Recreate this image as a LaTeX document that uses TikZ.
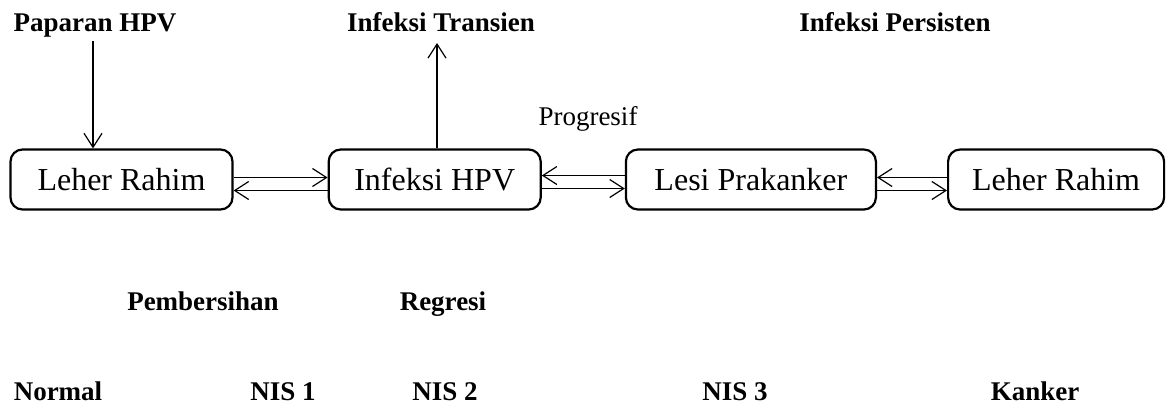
\documentclass[tikz,border=0pt]{standalone}
\usepackage{fontspec}
\setmainfont{Liberation Serif}
\usetikzlibrary{positioning,arrows.meta}

\begin{document}
\begin{tikzpicture}[x=0.5pt,y=-0.5pt,
  k/.style={rectangle,draw,line width=1.1pt,rounded corners=6pt,minimum height=30pt,inner sep=0pt,font=\fontsize{16}{19}\selectfont},
  lb/.style={font=\fontsize{13.5}{16}\selectfont\bfseries,inner sep=0pt,anchor=base},
  a/.style={-{Straight Barb[length=7pt,width=9pt]},line width=0.6pt}]
  \useasboundingbox (0,0) rectangle (1174,403);
  \node[k,minimum width=111pt] (n) at (121.5,179.5) {Leher Rahim};
  \node[k,right=47pt,minimum width=106pt] (h) at (n.east) {Infeksi HPV};
  \node[k,right=41.5pt,minimum width=125pt] (l) at (h.east) {Lesi Prakanker};
  \node[k,right=35pt,minimum width=108pt] (c) at (l.east) {Leher Rahim};

  \draw[a] ([yshift=1pt]n.east) -- ([yshift=1pt]h.west);
  \draw[a] ([yshift=-5.5pt]h.west) -- ([yshift=-5.5pt]n.east);
  \draw[a] ([yshift=2pt]l.west) -- ([yshift=2pt]h.east);
  \draw[a] ([yshift=-4.5pt]h.east) -- ([yshift=-4.5pt]l.west);
  \draw[a] ([yshift=1pt]c.west) -- ([yshift=1pt]l.east);
  \draw[a] ([yshift=-5.5pt]l.east) -- ([yshift=-5.5pt]c.west);

  \node[lb] (pap) at (95,31) {Paparan HPV};
  \node[lb] (tr) at (441,31) {Infeksi Transien};
  \node[lb] (ps) at (895,31) {Infeksi Persisten};
  \node[lb,font=\fontsize{13.5}{16}\selectfont] (pg) at (588,125) {Progresif};

  \coordinate (p0) at (93,41);
  \coordinate (t0) at (437,43);
  \draw[a] (p0) -- (p0 |- n.north);
  \draw[a] (t0 |- h.north) -- (t0);

  \node[lb] (pb) at (203,310) {Pembersihan};
  \node[lb] (rg) at (443,310) {Regresi};

  \node[lb] (s0) at (58,400) {Normal};
  \node[lb] (s1) at (283,400) {NIS 1};
  \node[lb] (s2) at (445,400) {NIS 2};
  \node[lb] (s3) at (735,400) {NIS 3};
  \node[lb] (s4) at (1035,400) {Kanker};
\end{tikzpicture}
\end{document}
